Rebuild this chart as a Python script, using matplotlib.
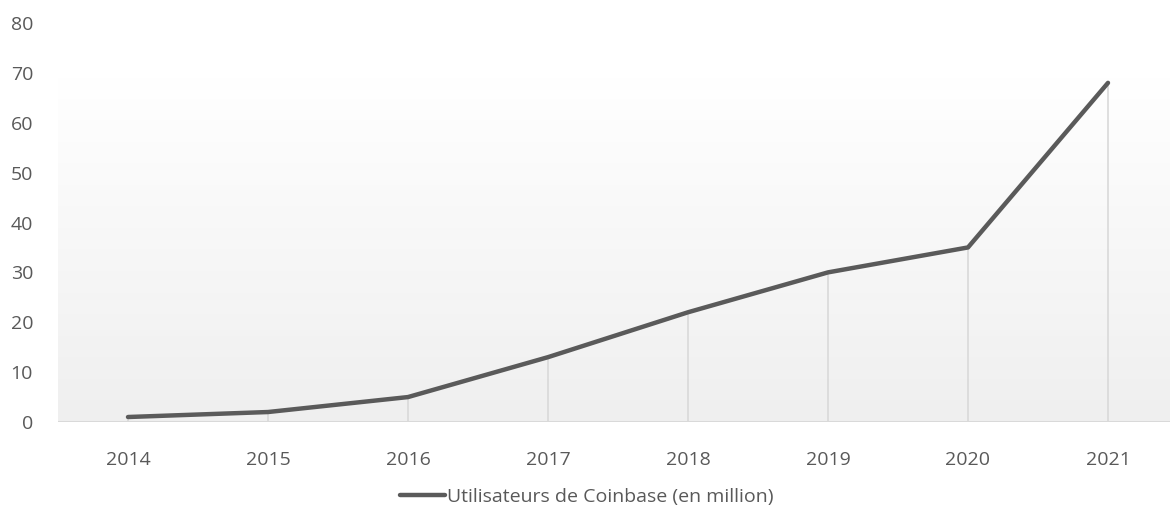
import numpy as np
import matplotlib
matplotlib.use("Agg")
import matplotlib.pyplot as plt

years = ["2014", "2015", "2016", "2017", "2018", "2019", "2020", "2021"]
users = [1, 2, 5, 13, 22, 30, 35, 68]
yticks = [0, 10, 20, 30, 40, 50, 60, 70, 80]
label = "Utilisateurs de Coinbase (en million)"

plt.rcParams["font.family"] = ["Open Sans", "DejaVu Sans"]
text_col = "#595959"

fig = plt.figure(figsize=(11.7, 5.16), dpi=100)
ax = fig.add_axes([58 / 1170, 94 / 516, 1120 / 1170, 399 / 516])
x = np.arange(len(years))

# gradient fill behind the line, white at top to light gray at bottom
grad = np.linspace(1.0, 0.0, 256).reshape(-1, 1)
ax.imshow(grad, cmap=matplotlib.colors.LinearSegmentedColormap.from_list("g", ["#efefef", "#ffffff"]),
          extent=[-0.5, 7.5, 0, 69], aspect="auto", zorder=0, vmin=0, vmax=1)

ax.vlines(x, 0, users, color="#d9d9d9", linewidth=1.2, zorder=1)
ax.plot(x, users, color="#5a5a5a", linewidth=3.2, solid_capstyle="round",
        solid_joinstyle="round", label=label, zorder=3)
ax.axhline(0, color="#d9d9d9", linewidth=1.5, zorder=2)

ax.set_xlim(-0.5, 7.5)
ax.set_ylim(0, 80)
ax.set_xticks(x)
ax.set_xticklabels(years)
ax.set_yticks(yticks)
ax.tick_params(axis="both", length=0, labelsize=14, colors=text_col)
ax.tick_params(axis="x", pad=21)
ax.tick_params(axis="y", pad=18)
for s in ax.spines.values():
    s.set_visible(False)

leg = fig.legend(loc="center", bbox_to_anchor=(587 / 1170, 1 - 497 / 516), frameon=False,
                 fontsize=14, handlelength=2.3, handletextpad=0.1)
for t in leg.get_texts():
    t.set_color(text_col)

fig.savefig("out.png", dpi=100)
